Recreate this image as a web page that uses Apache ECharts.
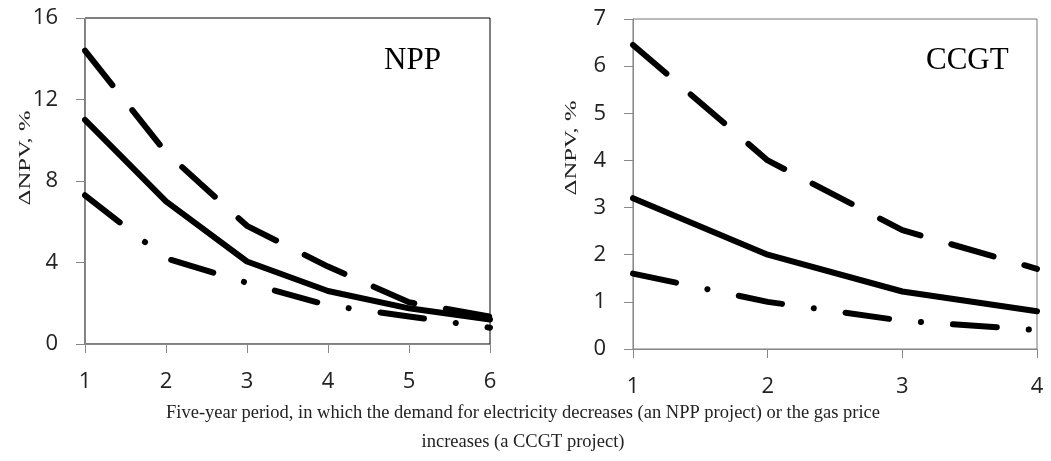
<!DOCTYPE html>
<html>
<head>
<meta charset="utf-8">
<script src="https://cdn.jsdelivr.net/npm/echarts@6/dist/echarts.min.js"></script>
<style>
  html, body { margin: 0; padding: 0; background: #fff; }
  #main { width: 1051px; height: 461px; }
</style>
</head>
<body>
<div id="main"></div>
<script>
// NPP panel
var nppPeriods = [1, 2, 3, 4, 5, 6];
var nppSolid = [11.0, 7.0, 4.05, 2.6, 1.75, 1.2];
var nppDashed = [14.4, 9.4, 5.8, 3.8, 2.05, 1.35];
var nppDashDot = [7.3, 4.2, 3.0, 1.9, 1.35, 0.8];
var nppTicks = [0, 4, 8, 12, 16];

// CCGT panel
var ccgtPeriods = [1, 2, 3, 4];
var ccgtSolid = [3.2, 2.0, 1.22, 0.8];
var ccgtDashed = [6.45, 4.0, 2.52, 1.7];
var ccgtDashDot = [1.6, 1.0, 0.6, 0.4];
var ccgtTicks = [0, 1, 2, 3, 4, 5, 6, 7];

var axisCol = '#888';
var tickFont = { fontFamily: 'Open Sans', fontSize: 22, color: '#222' };
var serif = 'Liberation Serif';

function pairs(xs, ys) {
    return xs.map(function (x, i) { return [x, ys[i]]; });
}

function lineSeries(idx, data, kind) {
    var type = 'solid';
    if (kind === 'dash') type = [44, 32];
    if (kind === 'dashdot') type = [44, 32, 0.1, 32];
    return {
        type: 'line',
        xAxisIndex: idx,
        yAxisIndex: idx,
        data: data,
        symbol: 'none',
        silent: true,
        lineStyle: { color: '#000', width: 6, type: type, cap: 'round', join: 'round' }
    };
}

function xAx(idx, max) {
    return {
        gridIndex: idx, type: 'value', min: 1, max: max, interval: 1,
        axisLine: { lineStyle: { color: axisCol } },
        axisTick: { show: true, length: 9, lineStyle: { color: axisCol } },
        axisLabel: Object.assign({ margin: 27 }, tickFont),
        splitLine: { show: false }
    };
}

function yAx(idx, ticks) {
    return {
        gridIndex: idx, type: 'value', min: ticks[0], max: ticks[ticks.length - 1],
        interval: ticks[1] - ticks[0],
        axisLine: { show: true, lineStyle: { color: axisCol } },
        axisTick: { show: true, length: 9, lineStyle: { color: axisCol } },
        axisLabel: Object.assign({ margin: 27 }, tickFont),
        splitLine: { show: false }
    };
}

// rotated, stretched axis name like the original
function yName(x, y) {
    return {
        type: 'text', x: x, y: y, rotation: Math.PI / 2, scaleX: 1.45,
        style: { text: 'ΔNPV, %', fontFamily: serif, fontSize: 17, fill: '#222', align: 'center', verticalAlign: 'middle' }
    };
}

var chart = echarts.init(document.getElementById('main'));
chart.setOption({
    animation: false,
    backgroundColor: '#fff',
    grid: [
        { left: 85, top: 18, width: 405, height: 326, show: true, borderColor: '#000', borderWidth: 1 },
        { left: 633, top: 19, width: 404, height: 330, show: true, borderColor: '#777', borderWidth: 1 }
    ],
    xAxis: [xAx(0, 6), xAx(1, 4)],
    yAxis: [yAx(0, nppTicks), yAx(1, ccgtTicks)],
    graphic: [
        yName(26, 158),
        yName(572, 148),
        { type: 'text', left: 384, top: 45, style: { text: 'NPP', fontFamily: serif, fontSize: 31, fill: '#000' } },
        { type: 'text', left: 926, top: 45, style: { text: 'CCGT', fontFamily: serif, fontSize: 31, fill: '#000' } },
        {
            type: 'text', x: 523, y: 399,
            style: {
                text: 'Five-year period, in which the demand for electricity decreases (an NPP project) or the gas price\nincreases (a CCGT project)',
                fontFamily: serif, fontSize: 18.5, lineHeight: 29, fill: '#222', align: 'center'
            }
        }
    ],
    series: [
        lineSeries(0, pairs(nppPeriods, nppDashed), 'dash'),
        lineSeries(0, pairs(nppPeriods, nppSolid), 'solid'),
        lineSeries(0, pairs(nppPeriods, nppDashDot), 'dashdot'),
        lineSeries(1, pairs(ccgtPeriods, ccgtDashed), 'dash'),
        lineSeries(1, pairs(ccgtPeriods, ccgtSolid), 'solid'),
        lineSeries(1, pairs(ccgtPeriods, ccgtDashDot), 'dashdot')
    ]
});
</script>
</body>
</html>
